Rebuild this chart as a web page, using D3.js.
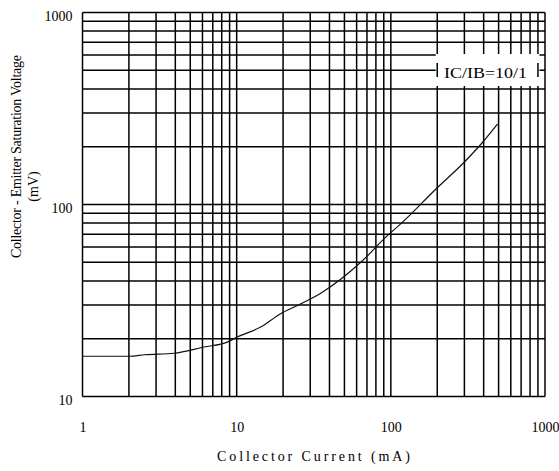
<!DOCTYPE html>
<html><head><meta charset="utf-8">
<script src="https://cdn.jsdelivr.net/npm/d3@7"></script>
<style>
body{margin:0;background:#fff;}
svg{display:block;}
text{font-family:"Liberation Serif","Times New Roman",serif;fill:#000;}
</style></head>
<body><svg id="c" width="559" height="471"></svg>
<script>
// Data
const currentMA = [1, 2.02, 2.54, 3.92, 6.13, 8.7, 10.1, 14.3, 19.3, 24.8, 35.1, 63.8, 92.8, 119, 161, 191, 299, 394, 493];
const vceSatMV  = [16.2, 16.2, 16.5, 16.8, 18.1, 19.2, 20.4, 23.0, 27.0, 29.8, 34.5, 50.0, 67.6, 80.9, 102.8, 118, 166, 211, 263];
const xTickLabels = [1, 10, 100, 1000];
const yTickLabels = [10, 100, 1000];
const legendText = "IC/IB=10/1";
const xTitle = "Collector Current (mA)";
const yTitle1 = "Collector - Emitter Saturation  Voltage";
const yTitle2 = "(mV)";

const svg = d3.select("#c");
const L = 82.5, R = 545, T = 12.5, B = 396.5;
const x = d3.scaleLog().domain([1, 1000]).range([L, R]);
const y = d3.scaleLog().domain([10, 1000]).range([B, T]);

function minor(lo, hi){ const a=[]; for(let d=lo; d<hi; d*=10) for(let k=1;k<10;k++) a.push(d*k); a.push(hi); return a; }
const gx = minor(1, 1000), gy = minor(10, 1000);

const grid = svg.append("g");
grid.selectAll("line.v").data(gx).join("line")
  .attr("x1", d=>x(d)).attr("x2", d=>x(d)).attr("y1", T).attr("y2", B)
  .attr("stroke", "#000").attr("stroke-width", 1.5);
grid.selectAll("line.h").data(gy).join("line")
  .attr("y1", d=>y(d)).attr("y2", d=>y(d)).attr("x1", L).attr("x2", R)
  .attr("stroke", "#000").attr("stroke-width", 1.5);

// legend box
const lg = svg.append("g");
lg.append("rect").attr("x", x(200)-1.5).attr("y", 54).attr("width", x(900)-x(200)+3).attr("height", 32).attr("fill", "#fff");
[200, 900].forEach(v => lg.append("line").attr("x1", x(v)).attr("x2", x(v)).attr("y1", 63).attr("y2", 77).attr("stroke", "#000").attr("stroke-width", 1.5));
lg.append("text").attr("x", 444).attr("y", 78).attr("font-size", 15).attr("textLength", 83).attr("lengthAdjust", "spacingAndGlyphs").text(legendText);

// curve
const line = d3.line().x((d,i)=>x(currentMA[i])).y((d,i)=>y(vceSatMV[i])).curve(d3.curveMonotoneX);
svg.append("path").attr("d", line(currentMA)).attr("fill", "none").attr("stroke", "#111").attr("stroke-width", 1.2);

// tick labels
svg.append("g").attr("transform", `translate(0,${B})`)
  .call(d3.axisBottom(x).tickValues(xTickLabels).tickSize(0).tickPadding(26).tickFormat(d3.format("d")))
  .call(g=>g.select(".domain").remove())
  .call(g=>g.selectAll("text").attr("font-size", 14).attr("font-family", "Liberation Serif").attr("fill", "#000"));
svg.append("g").attr("transform", `translate(${L},0)`)
  .call(d3.axisLeft(y).tickValues(yTickLabels).tickSize(0).tickPadding(10).tickFormat(d3.format("d")))
  .call(g=>g.select(".domain").remove())
  .call(g=>g.selectAll("text").attr("font-size", 14).attr("font-family", "Liberation Serif").attr("fill", "#000").attr("dy", "0.55em"));

// titles
svg.append("text").attr("x", 313.5).attr("y", 461).attr("text-anchor", "middle").attr("font-size", 14)
  .attr("textLength", 193).attr("lengthAdjust", "spacing").text(xTitle);
svg.append("text").attr("transform", "translate(21,156.5) rotate(-90)").attr("text-anchor", "middle").attr("font-size", 14)
  .attr("textLength", 203).attr("lengthAdjust", "spacing").text(yTitle1);
svg.append("text").attr("transform", "translate(38,186.5) rotate(-90)").attr("text-anchor", "middle").attr("font-size", 14)
  .text(yTitle2);
</script></body></html>
